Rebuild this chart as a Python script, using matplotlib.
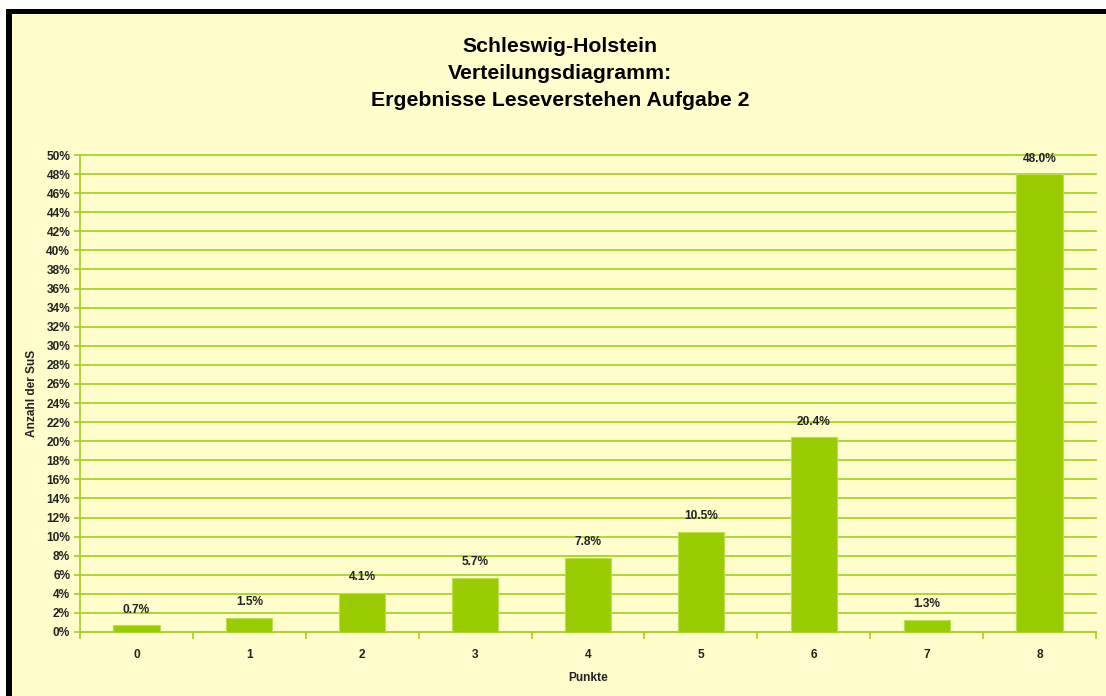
import matplotlib
matplotlib.use("Agg")
import matplotlib.pyplot as plt
from matplotlib.patches import Rectangle
from matplotlib.ticker import FixedLocator, FuncFormatter

categories = ["0", "1", "2", "3", "4", "5", "6", "7", "8"]
values = [0.7, 1.5, 4.1, 5.7, 7.8, 10.5, 20.4, 1.3, 48.0]
title_lines = ["Schleswig-Holstein", "Verteilungsdiagramm:", "Ergebnisse Leseverstehen Aufgabe 2"]
y_label = "Anzahl der SuS"
x_label = "Punkte"

W, H = 1106, 696
fig = plt.figure(figsize=(W / 100, H / 100), dpi=100)
fig.patch.set_facecolor("white")
# black frame and yellow interior
fig.patches.append(Rectangle((6 / W, 0), 1, (H - 9) / H, transform=fig.transFigure,
                             facecolor="black", edgecolor="none", zorder=-2))
fig.patches.append(Rectangle((12 / W, 0), 1, (H - 14) / H, transform=fig.transFigure,
                             facecolor="#FFFDCC", edgecolor="none", zorder=-1))

ax = fig.add_axes([80 / W, (H - 632) / H, (1096 - 80) / W, (632 - 155) / H])
ax.set_facecolor("none")
grid_c = "#A6D42A"
bar_c = "#99CC00"
txt_c = "#222222"
fs = 8.6

x = list(range(len(categories)))
bars = ax.bar(x, values, width=0.41, color=bar_c, edgecolor="#B8E04A", linewidth=0.8, zorder=3)
for xi, v in zip(x, values):
    ax.text(xi, v + 1.0, f"{v:.1f}%", ha="center", va="bottom", fontsize=fs,
            fontweight="bold", color=txt_c, family="Liberation Sans", zorder=4)

ax.set_xlim(-0.5, len(categories) - 0.5)
ax.set_ylim(0, 50)
ax.yaxis.set_major_locator(FixedLocator(list(range(0, 51, 2))))
ax.yaxis.set_major_formatter(FuncFormatter(lambda v, p: f"{int(v)}%"))
ax.grid(axis="y", color=grid_c, linewidth=1.3, zorder=1)
for gl in ax.get_ygridlines():
    gl.set_clip_on(False)
ax.set_xticks(x)
ax.set_xticklabels(categories)
ax.xaxis.set_minor_locator(FixedLocator([i - 0.5 for i in range(len(categories) + 1)]))
ax.tick_params(axis="x", which="major", length=0, pad=12)
ax.tick_params(axis="x", which="minor", length=5, color=grid_c, width=1.3, direction="out")
ax.tick_params(axis="y", length=4, color=grid_c, width=1.3, direction="out", pad=3)
for lab in ax.get_xticklabels() + ax.get_yticklabels():
    lab.set_fontsize(fs)
    lab.set_fontweight("bold")
    lab.set_family("Liberation Sans")
    lab.set_color(txt_c)
for s in ["top", "right"]:
    ax.spines[s].set_visible(False)
ax.spines["left"].set_color(grid_c)
ax.spines["bottom"].set_color(grid_c)
ax.spines["left"].set_linewidth(1.3)
ax.spines["bottom"].set_linewidth(1.3)

ax.set_ylabel(y_label, fontsize=fs, fontweight="bold", family="Liberation Sans", labelpad=6, color=txt_c)
ax.set_xlabel(x_label, fontsize=fs, fontweight="bold", family="Liberation Sans", labelpad=8, color=txt_c)

for i, line in enumerate(title_lines):
    fig.text(560 / W, 1 - (47 + 26.5 * i) / H, line, ha="center", va="center",
             fontsize=15.3, fontweight="bold", family="Liberation Sans", color="black")

fig.savefig("out.png", dpi=100)
